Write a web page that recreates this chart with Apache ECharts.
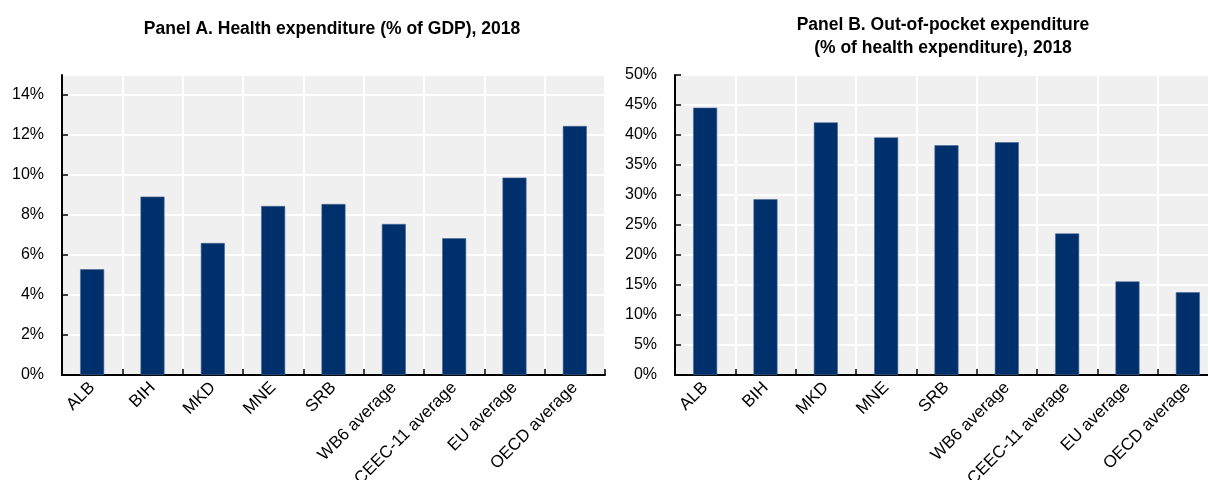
<!DOCTYPE html>
<html>
<head>
<meta charset="utf-8">
<script src="https://cdn.jsdelivr.net/npm/echarts@6/dist/echarts.min.js"></script>
<style>
  html, body { margin: 0; padding: 0; background: #fff; }
  #chart { width: 1208px; height: 480px; }
</style>
</head>
<body>
<div id="chart"></div>
<script>
// Categories shared by both panels
const categories = ['ALB', 'BIH', 'MKD', 'MNE', 'SRB', 'WB6 average', 'CEEC-11 average', 'EU average', 'OECD average'];

// Panel A: health expenditure, % of GDP, 2018
const healthExpPctGdp = [5.29, 8.92, 6.6, 8.45, 8.55, 7.55, 6.84, 9.87, 12.45];

// Panel B: out-of-pocket expenditure, % of health expenditure, 2018
const oopPctHealthExp = [44.55, 29.3, 42.1, 39.6, 38.3, 38.8, 23.6, 15.6, 13.8];

const titleA = 'Panel A. Health expenditure (% of GDP), 2018';
const titleB = 'Panel B. Out-of-pocket expenditure\n(% of health expenditure), 2018';

const FONT = '"Liberation Sans", Arial, sans-serif';
const BAR = '#00306b';
const PLOT_BG = '#f0f0f0';

function xAxisFor(gridIndex) {
  return {
    type: 'category',
    gridIndex: gridIndex,
    data: categories,
    axisLine: { lineStyle: { color: '#000', width: 2 } },
    axisTick: { show: true, inside: true, length: 6, lineStyle: { color: '#000', width: 1.5 } },
    axisLabel: { rotate: 45, margin: 10, color: '#000', fontFamily: FONT, fontSize: 17, interval: 0 },
    splitLine: { show: true, lineStyle: { color: '#fff', width: 2 } }
  };
}

function yAxisFor(gridIndex, max, interval, showMax) {
  return {
    type: 'value',
    gridIndex: gridIndex,
    min: 0,
    max: max,
    interval: interval,
    axisLine: { show: true, lineStyle: { color: '#000', width: 2 } },
    axisTick: { show: true, inside: true, length: 6, lineStyle: { color: '#000', width: 1.5 } },
    axisLabel: {
      formatter: '{value}%', margin: 18, color: '#000', fontFamily: FONT, fontSize: 16,
      showMaxLabel: showMax
    },
    splitLine: { show: true, lineStyle: { color: '#fff', width: 2 } }
  };
}

// Both plots keep their fixed boxes; the long rotated labels may run past the bottom edge.
const gridBase = {
  top: 75, width: 543, height: 300, show: true, backgroundColor: PLOT_BG, borderWidth: 0,
  containLabel: false, outerBoundsMode: 'none'
};

const titleStyle = { fontFamily: FONT, fontWeight: 'bold', fontSize: 17.5, color: '#000', lineHeight: 23, align: 'center' };

const chart = echarts.init(document.getElementById('chart'), null, { renderer: 'canvas' });
chart.setOption({
  backgroundColor: '#fff',
  animation: false,
  title: [
    { text: titleA, left: 327, top: 13, textAlign: 'center', textStyle: titleStyle },
    { text: titleB, left: 938, top: 9, textAlign: 'center', textStyle: titleStyle }
  ],
  grid: [
    Object.assign({ left: 62 }, gridBase),
    Object.assign({ left: 675 }, gridBase)
  ],
  xAxis: [xAxisFor(0), xAxisFor(1)],
  yAxis: [yAxisFor(0, 15, 2, false), yAxisFor(1, 50, 5, true)],
  series: [
    {
      type: 'bar', xAxisIndex: 0, yAxisIndex: 0, data: healthExpPctGdp,
      barWidth: 24, itemStyle: { color: BAR, borderColor: '#4a6a97', borderWidth: 0.6 }
    },
    {
      type: 'bar', xAxisIndex: 1, yAxisIndex: 1, data: oopPctHealthExp,
      barWidth: 24, itemStyle: { color: BAR, borderColor: '#4a6a97', borderWidth: 0.6 }
    }
  ]
});
</script>
</body>
</html>
